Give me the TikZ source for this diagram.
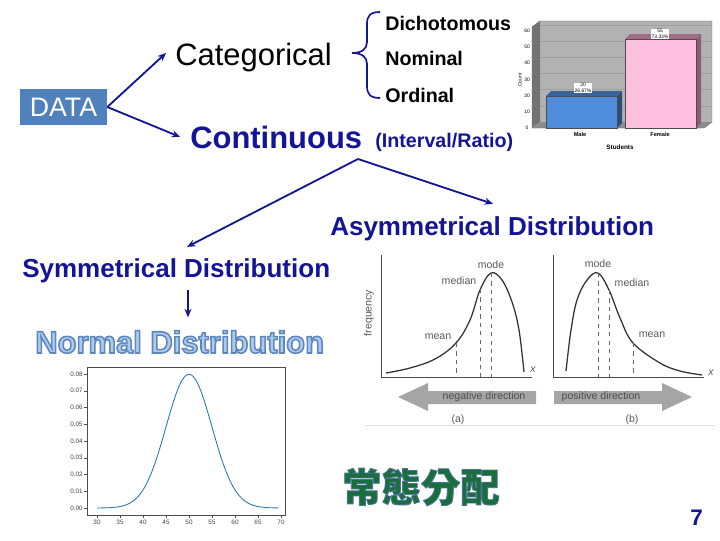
\documentclass[tikz,border=0pt]{standalone}
\usepackage{fontspec}
\setmainfont{Liberation Sans}
\newfontfamily\cjk{Noto Sans CJK TC}
\usetikzlibrary{arrows.meta}

\definecolor{deepblue}{RGB}{20,20,150}
\definecolor{databox}{RGB}{79,129,189}
\definecolor{lightblue}{RGB}{175,202,235}
\definecolor{zhgreen}{RGB}{25,110,60}
\definecolor{malebar}{RGB}{80,140,220}
\definecolor{femalebar}{RGB}{255,192,224}
\definecolor{mauve}{RGB}{160,110,135}
\definecolor{curveblue}{RGB}{31,119,180}
\definecolor{arrowgray}{RGB}{165,165,165}

% text filled in the current colour and stroked in an rgb colour
\newcommand{\strokedtext}[3]{%
  \special{pdf:code q #1 RG #2 w 2 Tr}#3\special{pdf:code Q}}

\tikzset{
  link/.style={-{Stealth[length=6pt,width=5pt]}, deepblue, line width=1.3pt},
  word/.style={anchor=base west, inner sep=0},
  subtype/.style={word, font=\fontsize{14}{17}\selectfont\bfseries},
  distname/.style={word, text=deepblue, font=\fontsize{18.5}{22}\selectfont\bfseries},
  skewlabel/.style={inner sep=0, text=black!65, font=\fontsize{7.5}{9}\selectfont},
  tinylabel/.style={inner sep=0, font=\fontsize{3.5}{4}\selectfont},
  ticklabel/.style={inner sep=0, text=black!75, font=\fontsize{4.5}{5}\selectfont},
  skewcurve/.style={black!80, line width=0.9pt},
  skewline/.style={black!60, dashed, line width=0.4pt}
}

\begin{document}
\begin{tikzpicture}[x=0.025cm, y=-0.025cm]
    \useasboundingbox (0,0) rectangle (720,540);

    % Data and its two kinds
    \node[fill=databox, text=white, minimum width=2.175cm, minimum height=0.9cm,
          inner sep=0, font=\fontsize{19}{22}\selectfont] (data) at (63.5,107) {DATA};
    \node[word, font=\fontsize{22}{26}\selectfont] (cat) at (175,65) {Categorical};
    \node[word, text=deepblue, font=\fontsize{22}{26}\selectfont\bfseries] (cont) at (190,148) {Continuous};
    \node[word, text=deepblue, font=\fontsize{14}{17}\selectfont\bfseries] (ratio) at (375,147) {(Interval/Ratio)};

    \draw[link] (data.east) -- ([shift={(-9,-4)}]cat.west);
    \draw[link] (data.east) -- ([xshift=-7]cont.west);

    % Brace and categorical subtypes
    \draw[deepblue, line width=1.2pt] (380,12) .. controls (370,12) and (367,16) .. (367,24)
        -- (367,42) .. controls (367,49) and (362,53) .. (352,53)
        .. controls (362,53) and (367,57) .. (367,64)
        -- (367,86) .. controls (367,94) and (370,98) .. (380,98);
    \node[subtype] (dich) at (385,30) {Dichotomous};
    \node[subtype] (nom) at (385,65) {Nominal};
    \node[subtype] (ord) at (385,102) {Ordinal};

    % Bar chart
    \fill[black!30] (540,21) rectangle (712,122);
    \foreach \v in {10,20,...,60}
        \draw[black!38, line width=0.2pt] (540,{122-1.62*\v}) -- (712,{122-1.62*\v});
    \fill[black!55] (532,27) -- (540,21) -- (540,122) -- (532,128) -- cycle;
    \fill[black!45] (532,128) -- (540,122) -- (712,122) -- (704,128) -- cycle;
    \draw[black!60, line width=0.3pt] (532,27) -- (540,21) -- (712,21) -- (712,122) -- (704,128) -- (532,128) -- cycle;
    \foreach \v in {0,10,...,60}
        \node[tinylabel] at (527,{128-1.62*\v}) {\v};
    \node[tinylabel, rotate=90] (count) at (520,80) {Count};
    % Male bar
    \fill[malebar!70!black] (546,96) -- (551,91) -- (622,91) -- (617,96) -- cycle;
    \fill[malebar!55!black] (617,96) -- (622,91) -- (622,123) -- (617,128) -- cycle;
    \filldraw[fill=malebar, draw=black!70, line width=0.3pt] (546,96) rectangle (617,128);
    % Female bar
    \fill[mauve] (625,39) -- (630,34) -- (701,34) -- (696,39) -- cycle;
    \fill[mauve!85!black] (696,39) -- (701,34) -- (701,123) -- (696,128) -- cycle;
    \filldraw[fill=femalebar, draw=black!70, line width=0.3pt] (625,39) rectangle (696,128);
    \node[tinylabel, fill=white, inner sep=0.6pt, align=center] (malecount) at (583,88) {20\\26.67\%};
    \node[tinylabel, fill=white, inner sep=0.6pt, align=center] (femalecount) at (660,34) {55\\73.33\%};
    \node[tinylabel, font=\fontsize{4}{5}\selectfont\bfseries] (male) at (580,134) {Male};
    \node[tinylabel, font=\fontsize{4}{5}\selectfont\bfseries] (female) at (660,134) {Female};
    \node[tinylabel, font=\fontsize{4.5}{5}\selectfont\bfseries] (students) at (620,147) {Students};

    % Continuous splits into two kinds
    \coordinate (split) at (358,159);
    \node[distname] (asym) at (330,235) {Asymmetrical Distribution};
    \node[distname] (sym) at (22,277) {Symmetrical Distribution};
    \draw[link] (split) -- ([shift={(165,-11)}]sym.north west);
    \draw[link] (split) -- ([shift={(163,-12)}]asym.north west);

    \node[word, text=lightblue, font=\fontsize{22}{26}\selectfont\bfseries] (normal) at (35,353)
        {\strokedtext{0.37 0.53 0.75}{1.1}{Normal Distribution}};
    \draw[link] ([shift={(166,7)}]sym.south west) -- ([shift={(153,-13)}]normal.north west);

    % Normal curve plot
    \draw[black!70, line width=0.5pt] (87,367) rectangle (285,515);
    \foreach \t in {30,35,...,70} {
        \draw[black!70, line width=0.3pt] ({97+4.6*(\t-30)},515) -- ({97+4.6*(\t-30)},518);
        \node[ticklabel] at ({97+4.6*(\t-30)},522) {\t};
    }
    \foreach \k in {0,...,8} {
        \draw[black!70, line width=0.3pt] (87,{508-16.75*\k}) -- (84,{508-16.75*\k});
        \node[ticklabel, anchor=east] at (83,{508-16.75*\k}) {0.0\k};
    }
    \draw[curveblue, line width=0.6pt] plot[domain=30:69.5, samples=120]
        ({97+4.6*(\x-30)}, {508-1675*0.0798*exp(-((\x-50)^2)/50)});

    % Skewed curves, (a) negative and (b) positive
    \draw[black!70, line width=0.6pt] (381,255) -- (381,377) -- (532,377);
    \draw[black!70, line width=0.6pt] (553,255) -- (553,377) -- (704,377);
    \draw[skewcurve] plot[smooth, tension=0.6] coordinates {(386,373) (410,368) (435,359) (456,343)
        (470,320) (480,290) (491,273) (502,280) (512,302) (519,330) (524,372)};
    \draw[skewcurve] plot[smooth, tension=0.6] coordinates {(566,371) (571,330) (577,300) (587,280)
        (598,273) (609,290) (620,318) (633,343) (660,363) (680,371) (702,375)};
    \draw[skewline] (456,343) -- (456,377);
    \draw[skewline] (480,289) -- (480,377);
    \draw[skewline] (491,273) -- (491,377);
    \draw[skewline] (598,273) -- (598,377);
    \draw[skewline] (609,290) -- (609,377);
    \draw[skewline] (633,343) -- (633,377);
    \node[skewlabel] (modea) at (491,265) {mode};
    \node[skewlabel] (mediana) at (459,281) {median};
    \node[skewlabel] (meana) at (438,337) {mean};
    \node[skewlabel] (modeb) at (598,264) {mode};
    \node[skewlabel] (medianb) at (632,283) {median};
    \node[skewlabel] (meanb) at (652,335) {mean};
    \node[skewlabel, rotate=90] (freq) at (369,313) {frequency};
    \node[skewlabel, font=\fontsize{7.5}{9}\selectfont\itshape] (xa) at (533,370) {x};
    \node[skewlabel, font=\fontsize{7.5}{9}\selectfont\itshape] (xb) at (711,373) {x};
    \fill[arrowgray] (398,397) -- (428,383) -- (428,391) -- (536,391) -- (536,404) -- (428,404) -- (428,411) -- cycle;
    \fill[arrowgray] (692,397) -- (662,383) -- (662,391) -- (554,391) -- (554,404) -- (662,404) -- (662,411) -- cycle;
    \node[skewlabel, text=black!70] (neg) at (484,397) {negative direction};
    \node[skewlabel, text=black!70] (pos) at (601,397) {positive direction};
    \node[skewlabel] (capa) at (458,420) {(a)};
    \node[skewlabel] (capb) at (632,420) {(b)};
    \draw[black!12, line width=0.5pt] (365,425) -- (715,425);

    % Chinese title and page number
    \node[inner sep=0, text=zhgreen, font=\cjk\bfseries\fontsize{28}{30}\selectfont] (zh) at (421,487)
        {\strokedtext{0.3 0.45 0.6}{0.6}{常態分配}};
    \node[word, text=deepblue, font=\fontsize{16}{18}\selectfont\bfseries] (page) at (690,525) {7};
\end{tikzpicture}
\end{document}
